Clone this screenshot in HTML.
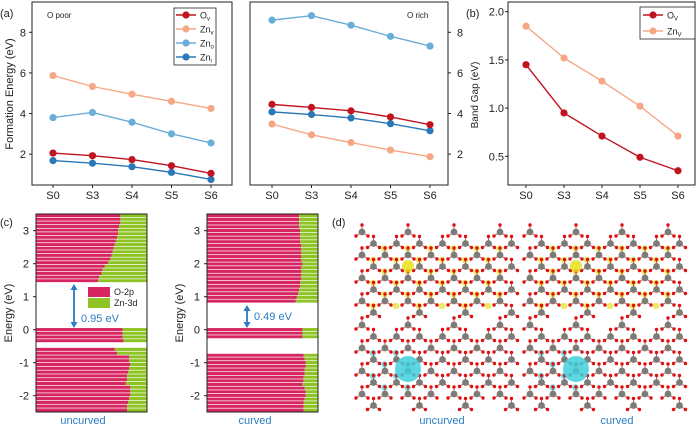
<!DOCTYPE html>
<html><head><meta charset="utf-8"><style>
html,body{margin:0;padding:0;background:#fff;}
svg{display:block;font-family:"Liberation Sans",sans-serif;}
</style></head><body>
<svg id="fig" width="700" height="426" viewBox="0 0 700 426" xmlns="http://www.w3.org/2000/svg">
<g id="ga"></g>
<g id="gb"></g>
<g id="gc"></g>
<g id="gd"></g>
</svg>
<script>
const NS="http://www.w3.org/2000/svg";
const categories=["S0","S3","S4","S5","S6"];
const poorOv=[2.05,1.92,1.73,1.43,1.05];
const poorZnv=[5.87,5.33,4.95,4.6,4.25];
const poorZno=[3.8,4.05,3.57,3.0,2.55];
const poorZni=[1.68,1.55,1.38,1.1,0.75];
const richZno=[8.6,8.82,8.35,7.8,7.32];
const richOv=[4.45,4.3,4.13,3.83,3.45];
const richZni=[4.08,3.95,3.78,3.5,3.15];
const richZnv=[3.48,2.95,2.57,2.2,1.87];
const gapOv=[1.45,0.95,0.71,0.49,0.35];
const gapZnv=[1.85,1.52,1.28,1.02,0.71];
const aTicks=[2,4,6,8];
const bTicks=[0.5,1.0,1.5,2.0];
const cTicks=[-2,-1,0,1,2,3];
const uncTop=[0.56,0.57,0.59,0.6,0.62,0.65,0.67,0.68,0.69,0.7,0.71,0.72,0.73,0.74,0.74,0.75,0.76,0.76,0.76];
const uncMid=[0.78,0.78,0.78,0.79];
const uncLow=[0.71,0.73,0.84,0.84,0.85,0.84,0.83,0.82,0.82,0.81,0.85,0.85,0.85,0.84,0.83,0.82,0.82];
const curTop=[0.8,0.81,0.82,0.83,0.84,0.84,0.85,0.85,0.85,0.85,0.86,0.85,0.85,0.85,0.85,0.85,0.84,0.84,0.84,0.84,0.83,0.83,0.83,0.83];
const curMid=[0.86,0.86,0.86];
const curLow=[0.87,0.88,0.89,0.89,0.88,0.88,0.87,0.87,0.86,0.88,0.89,0.89,0.88,0.87,0.87,0.87];
const C={ov:"#c1141f",znv:"#f6a886",zno:"#6aaed8",zni:"#2a78b8",pink:"#d62560",green:"#8dc322",blue:"#2b7cc3"};

function el(p,tag,attrs,txt){const e=document.createElementNS(NS,tag);for(const k in attrs)e.setAttribute(k,attrs[k]);if(txt!==undefined)e.textContent=txt;p.appendChild(e);return e;}
function txt(p,x,y,s,size,anchor,fill,name){const t=el(p,"text",{x:x,y:y,"font-size":size,"text-anchor":anchor||"start",fill:fill||"#222"},s);


return t;}

function series(g,xs,ys,vals,color,name){
 const pts=vals.map((v,i)=>xs(i)+","+ys(v)).join(" ");
 const pl=el(g,"polyline",{points:pts,fill:"none",stroke:color,"stroke-width":1.4});
 
 
 vals.forEach((v,i)=>{const c=el(g,"circle",{cx:xs(i),cy:ys(v),r:3.6,fill:color});
  
  });
}
function frame(g,x0,y0,x1,y1,name){const r=el(g,"rect",{x:x0,y:y0,width:x1-x0,height:y1-y0,fill:"none",stroke:"#222","stroke-width":1});
 
 }
function xaxis(g,xs,yb){categories.forEach((c,i)=>{el(g,"line",{x1:xs(i),x2:xs(i),y1:yb,y2:yb+3,stroke:"#222"});txt(g,xs(i),yb+14,c,11,"middle","#222","x-tick-label");});}
function legendEntry(g,x,y,color,label,sub){
 const l=el(g,"line",{x1:x,x2:x+20,y1:y,y2:y,stroke:color,"stroke-width":1.6});
 
 
 el(g,"circle",{cx:x+10,cy:y,r:3.6,fill:color});
 const t=txt(g,x+24,y+3.5,label,9,"start","#222","legend-entry");
 el(t,"tspan",{"font-size":6,dy:2},sub);
}

// ---- Panel a
const ga=document.getElementById("ga");
const ya=v=>32.3+(8-v)*20.3;
const xa1=i=>53+i*39.5, xa2=i=>272+i*39.5;
txt(ga,0,17,"(a)",11,"start","#222","panel-label-a");
frame(ga,32,2,232,185,"plot-frame-o-poor");
frame(ga,250,2,448,185,"plot-frame-o-rich");
aTicks.forEach(v=>{el(ga,"line",{x1:29,x2:32,y1:ya(v),y2:ya(v),stroke:"#222"});txt(ga,26,ya(v)+4,v,11,"end","#222","y-tick-label");
 el(ga,"line",{x1:448,x2:451,y1:ya(v),y2:ya(v),stroke:"#222"});txt(ga,457,ya(v)+4,v,11,"start","#222","y-tick-label");});
xaxis(ga,xa1,185);xaxis(ga,xa2,185);
const yt=txt(ga,0,0,"Formation Energy (eV)",11,"middle","#222","y-axis-title");yt.setAttribute("transform","translate(13,94) rotate(-90)");
txt(ga,47,18,"O poor",8,"start","#222","subtitle-o-poor");
txt(ga,407,18,"O rich",8,"start","#222","subtitle-o-rich");
series(ga,xa1,ya,poorZnv,C.znv,"poor-znv");series(ga,xa1,ya,poorZno,C.zno,"poor-zno");
series(ga,xa1,ya,poorZni,C.zni,"poor-zni");series(ga,xa1,ya,poorOv,C.ov,"poor-ov");
series(ga,xa2,ya,richZno,C.zno,"rich-zno");series(ga,xa2,ya,richZnv,C.znv,"rich-znv");
series(ga,xa2,ya,richZni,C.zni,"rich-zni");series(ga,xa2,ya,richOv,C.ov,"rich-ov");
const lga=el(ga,"g",{});
el(lga,"rect",{x:174,y:8,width:42,height:57,fill:"#fff",stroke:"#222","stroke-width":0.8});
legendEntry(lga,176,15,C.ov,"O","v");legendEntry(lga,176,29,C.znv,"Zn","v");
legendEntry(lga,176,43,C.zno,"Zn","o");legendEntry(lga,176,57,C.zni,"Zn","i");

// ---- Panel b
const gb=document.getElementById("gb");
const yb=v=>11.7+(2-v)*96.4, xb=i=>526+i*38;
txt(gb,466,17,"(b)",11,"start","#222","panel-label-b");
frame(gb,508,2,695,185,"plot-frame-b");
bTicks.forEach(v=>{el(gb,"line",{x1:505,x2:508,y1:yb(v),y2:yb(v),stroke:"#222"});txt(gb,504,yb(v)+4,v.toFixed(1),11,"end","#222","y-tick-label");});
xaxis(gb,xb,185);
const bt=txt(gb,0,0,"Band Gap (eV)",10,"middle","#222","y-axis-title-b");bt.setAttribute("transform","translate(478,95) rotate(-90)");
series(gb,xb,yb,gapZnv,C.znv,"gap-znv");series(gb,xb,yb,gapOv,C.ov,"gap-ov");
const lgb=el(gb,"g",{});
el(lgb,"rect",{x:640,y:7,width:55,height:32,fill:"#fff",stroke:"#222","stroke-width":0.8});
legendEntry(lgb,643,15,C.ov,"O","V");legendEntry(lgb,643,31,C.znv,"Zn","V");

// ---- Panel c
const gc=document.getElementById("gc");
const yc=v=>230.7+(3-v)*33;
txt(gc,0,226,"(c)",11,"start","#222","panel-label-c");
function group(g,x0,w,vTop,vBot,fr,name,topDown){
 const n=fr.length,h=(yc(vBot)-yc(vTop))/n;
 fr.forEach((f,i)=>{const idx=topDown?i:n-1-i;const y=yc(vTop)+idx*h;
  const p=el(g,"rect",{x:x0,y:y,width:w*f,height:h-0.7,fill:C.pink});
  
  const q=el(g,"rect",{x:x0+w*f,y:y,width:w*(1-f),height:h-0.7,fill:C.green});
  });
}
function dosPanel(x0,x1,top,mid,low,midTop,midBot,lowTop,gapTop,labelX,label,arrow,gapTxt,name){
 const w=x1-x0;
 group(gc,x0,w,3.5,gapTop,top,name+'-cb',false);
 group(gc,x0,w,midTop,midBot,mid,name+'-vb',true);
 group(gc,x0,w,lowTop,-2.5,low,name+'-low',true);
 frame(gc,x0,214,x1,412,name+'-frame');
 cTicks.forEach(v=>{el(gc,"line",{x1:x0-3,x2:x0,y1:yc(v),y2:yc(v),stroke:"#222"});txt(gc,x0-7,yc(v)+4,v,11,"end","#222","y-tick-label");});
 const t=txt(gc,0,0,"Energy (eV)",11,"middle","#222","y-axis-title-c");t.setAttribute("transform","translate("+(x0-24)+",313) rotate(-90)");
 txt(gc,labelX,424,label,11,"middle",C.blue,"x-label-"+name);
 const a=el(gc,"g",{});
 el(a,"line",{x1:arrow[0],x2:arrow[0],y1:arrow[1]+4,y2:arrow[2]-4,stroke:C.blue,"stroke-width":1.8});
 el(a,"polygon",{points:(arrow[0]-3.5)+","+(arrow[1]+6)+" "+(arrow[0]+3.5)+","+(arrow[1]+6)+" "+arrow[0]+","+arrow[1],fill:C.blue});
 el(a,"polygon",{points:(arrow[0]-3.5)+","+(arrow[2]-6)+" "+(arrow[0]+3.5)+","+(arrow[2]-6)+" "+arrow[0]+","+arrow[2],fill:C.blue});
 txt(gc,gapTxt[0],gapTxt[1],gapTxt[2],11,"start",C.blue,"gap-value-"+name);
}
dosPanel(36,147,uncTop,uncMid,uncLow,0.05,-0.4,-0.55,1.42,83,"uncurved",[74,284,328],[81,322,"0.95 eV"],"uncurved");
dosPanel(207,318,curTop,curMid,curLow,0.05,-0.28,-0.73,0.8,255,"curved",[247,305,328],[254,320,"0.49 eV"],"curved");
const lgc=el(gc,"g",{});
el(lgc,"rect",{x:88,y:287,width:22,height:10,fill:C.pink});el(lgc,"rect",{x:88,y:298,width:22,height:10,fill:C.green});
txt(lgc,114,295,"O-2p",9,"start","#222","legend-entry");txt(lgc,114,306,"Zn-3d",9,"start","#222","legend-entry");

// ---- Panel d
const gd=document.getElementById("gd");
txt(gd,332,226,"(d)",11,"start","#222","panel-label-d");
function structure(ox,oy,blobColor,vbm,name){
 const s=el(gd,"g",{});
 const bl=el(s,"g",{fill:blobColor,opacity:0.7});
 const atoms=el(s,"g",{});
 for(let r=0;r<8;r++){for(let c=0;c<7;c++){
  const x=ox+c*23+(r%2?11.5:0), y=oy+r*11.5;
  if((r===0||r===7)&&c%2) continue;
  if(!vbm && r>0&&r<7&&c<6) el(bl,"circle",{cx:x+11,cy:y+5,r:3.2});
  if(vbm && r>1&&r<6&&c<2) el(bl,"circle",{cx:x+11,cy:y+5,r:3.2});
  el(atoms,"line",{x1:x,y1:y,x2:x,y2:y-7,stroke:"#b55","stroke-width":0.9});
  el(atoms,"line",{x1:x,y1:y,x2:x-6,y2:y+4,stroke:"#b55","stroke-width":0.9});
  el(atoms,"line",{x1:x,y1:y,x2:x+6,y2:y+4,stroke:"#b55","stroke-width":0.9});
  el(atoms,"circle",{cx:x,cy:y-7,r:1.7,fill:"#e01010"});
  el(atoms,"circle",{cx:x-6,cy:y+4,r:1.7,fill:"#e01010"});
  el(atoms,"circle",{cx:x+6,cy:y+4,r:1.7,fill:"#e01010"});
  el(atoms,"circle",{cx:x,cy:y,r:3.4,fill:"#7b7b78"});
 }}
 const b=el(s,"circle",{cx:ox+46,cy:oy+(vbm?44:34),r:vbm?13:6,fill:blobColor,opacity:0.85});
 
}
structure(362,232,"#e8e01a",false,"structure-uncurved-cbm");
structure(530,232,"#e8e01a",false,"structure-curved-cbm");
structure(362,325,"#3fd0dc",true,"structure-uncurved-vbm");
structure(530,325,"#3fd0dc",true,"structure-curved-vbm");
txt(gd,442,424,"uncurved",11,"middle",C.blue,"x-label-d-uncurved");
txt(gd,617,424,"curved",11,"middle",C.blue,"x-label-d-curved");
</script>
</body></html>
